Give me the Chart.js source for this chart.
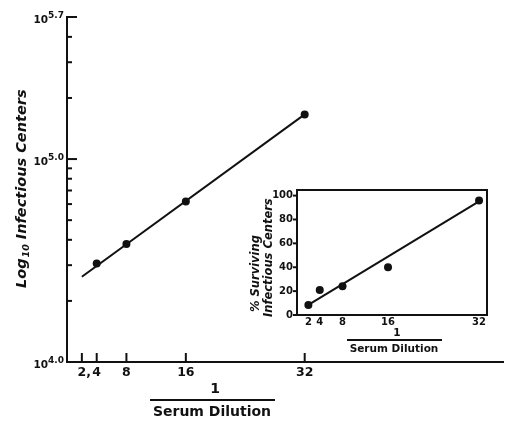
<!DOCTYPE html>
<html>
<head>
<meta charset="utf-8">
<script src="https://cdn.jsdelivr.net/npm/chart.js@4.4.1/dist/chart.umd.min.js"></script>
<style>
  html, body { margin: 0; padding: 0; background: #fff; }
  #wrap { position: relative; width: 507px; height: 421px; }
  #main { position: absolute; left: 0; top: 0; }
  #inset { position: absolute; left: 240px; top: 180px; }
</style>
</head>
<body>
<div id="wrap">
  <canvas id="main" width="507" height="421"></canvas>
  <canvas id="inset" width="267" height="180"></canvas>
</div>
<script>
// Eixo x (1 / diluição do soro)
const dilutionTicks = [2, 4, 8, 16, 32];
const dilutionTickLabels = ['2,', '4', '8', '16', '32'];

// Gráfico principal: centros infecciosos (escala log)
const mainDilution = [4, 8, 16, 32];
const mainCenters = [30600, 38100, 61700, 166000];
const mainFitX = [2, 32];
const mainFitY = [26300, 166000];
const logMinorTicks = [2e4, 3e4, 4e4, 5e4, 6e4, 7e4, 8e4, 9e4, 2e5, 3e5, 4e5];
const logMajorTicks = [1e5, Math.pow(10, 5.7)];
const logLabelValues = [1e4, 1e5, Math.pow(10, 5.7)];
const logLabelExps = ['4.0', '5.0', '5.7'];

// Gráfico inserido: % sobrevivência
const insetDilution = [2, 4, 8, 16, 32];
const insetSurviving = [8.4, 21, 24, 40, 96];
const insetFitX = [2, 32];
const insetFitY = [8.4, 95.2];
const insetYTicks = [0, 20, 40, 60, 80, 100];

const ink = '#111';
const FONT = '"DejaVu Sans", "Liberation Sans", Arial, sans-serif';

function pts(xs, ys) {
  return xs.map((v, i) => ({ x: v, y: ys[i] }));
}

function seg(ctx, x1, y1, x2, y2) {
  ctx.beginPath();
  ctx.moveTo(x1, y1);
  ctx.lineTo(x2, y2);
  ctx.stroke();
}

// Desenha ticks, rótulos e títulos do gráfico principal
const mainDecor = {
  id: 'mainDecor',
  afterDraw(chart) {
    const { ctx, chartArea: a, scales: { x, y } } = chart;
    ctx.save();
    ctx.strokeStyle = ink;
    ctx.fillStyle = ink;
    ctx.lineWidth = 2;

    // ticks do eixo x (para dentro)
    ctx.font = 'bold 12.5px ' + FONT;
    ctx.textBaseline = 'alphabetic';
    ctx.textAlign = 'left';
    dilutionTicks.forEach((v, i) => {
      const px = x.getPixelForValue(v);
      seg(ctx, px, a.bottom, px, a.bottom - 9);
      const lab = dilutionTickLabels[i];
      const core = lab.replace(/,$/, '');
      ctx.fillText(lab, px - ctx.measureText(core).width / 2, a.bottom + 14);
    });

    // ticks do eixo y
    logMinorTicks.forEach(v => {
      const py = y.getPixelForValue(v);
      seg(ctx, a.left, py, a.left + 5, py);
    });
    logMajorTicks.forEach(v => {
      const py = y.getPixelForValue(v);
      seg(ctx, a.left, py, a.left + 10, py);
    });

    // rótulos 10^n
    logLabelValues.forEach((v, i) => {
      const py = y.getPixelForValue(v);
      ctx.textAlign = 'right';
      ctx.font = 'bold 9px ' + FONT;
      const right = a.left - 3;
      const w = ctx.measureText(logLabelExps[i]).width;
      ctx.fillText(logLabelExps[i], right, py + 1);
      ctx.font = 'bold 10.5px ' + FONT;
      ctx.fillText('10', right - w, py + 6);
    });

    // título do eixo y
    ctx.save();
    ctx.translate(26, 288);
    ctx.rotate(-Math.PI / 2);
    ctx.textAlign = 'left';
    ctx.font = 'italic bold 14.5px ' + FONT;
    ctx.fillText('Log', 0, 0);
    let w = ctx.measureText('Log').width;
    ctx.font = 'italic bold 9.5px ' + FONT;
    ctx.fillText('10', w + 1, 3);
    w += ctx.measureText('10').width + 1;
    ctx.font = 'italic bold 14.5px ' + FONT;
    ctx.fillText(' Infectious Centers', w, 0);
    ctx.restore();

    // título do eixo x
    ctx.textAlign = 'center';
    ctx.font = 'bold 14px ' + FONT;
    ctx.fillText('1', 215, 393);
    seg(ctx, 150, 400, 275, 400);
    ctx.fillText('Serum Dilution', 212, 416);
    ctx.restore();
  }
};

// Caixa, ticks e títulos do gráfico inserido
const insetDecor = {
  id: 'insetDecor',
  afterDraw(chart) {
    const { ctx, chartArea: a, scales: { x, y } } = chart;
    ctx.save();
    ctx.strokeStyle = ink;
    ctx.fillStyle = ink;
    ctx.lineWidth = 2;
    ctx.strokeRect(a.left, a.top, a.right - a.left, a.bottom - a.top);

    ctx.font = 'bold 10px ' + FONT;
    ctx.textAlign = 'right';
    ctx.textBaseline = 'middle';
    insetYTicks.forEach(v => {
      const py = y.getPixelForValue(v);
      seg(ctx, a.left - 4, py, a.left, py);
      ctx.fillText(String(v), a.left - 4, py);
    });

    ctx.textAlign = 'center';
    ctx.textBaseline = 'top';
    dilutionTicks.forEach(v => {
      const px = x.getPixelForValue(v);
      ctx.fillText(String(v), px, a.bottom + 2);
    });

    ctx.textBaseline = 'alphabetic';
    ctx.save();
    ctx.translate(19, 132);
    ctx.rotate(-Math.PI / 2);
    ctx.textAlign = 'left';
    ctx.font = 'italic bold 11.5px ' + FONT;
    ctx.fillText('% Surviving', 0, 0);
    ctx.fillText('Infectious Centers', -5, 13);
    ctx.restore();

    ctx.textAlign = 'center';
    ctx.font = 'bold 10.5px ' + FONT;
    ctx.fillText('1', 157, 156);
    seg(ctx, 107, 160, 202, 160);
    ctx.fillText('Serum Dilution', 154, 172);
    ctx.restore();
  }
};

const hiddenAxis = {
  ticks: { display: false },
  grid: { display: false, drawTicks: false },
  title: { display: false }
};

new Chart(document.getElementById('main'), {
  type: 'scatter',
  data: {
    datasets: [{
      data: pts(mainFitX, mainFitY),
      showLine: true,
      pointRadius: 0,
      borderColor: ink,
      borderWidth: 2
    }, {
      data: pts(mainDilution, mainCenters),
      pointRadius: 4,
      backgroundColor: ink,
      borderWidth: 0
    }]
  },
  options: {
    responsive: false,
    animation: false,
    layout: { padding: { left: 67, right: 0, top: 17, bottom: 59 } },
    plugins: { legend: { display: false }, tooltip: { enabled: false } },
    scales: {
      x: Object.assign({}, hiddenAxis, {
        type: 'linear', min: 0, max: 58.7, bounds: 'data',
        border: { display: true, color: ink, width: 2 }
      }),
      y: Object.assign({}, hiddenAxis, {
        type: 'logarithmic', min: 1e4, max: Math.pow(10, 5.7), bounds: 'data',
        border: { display: true, color: ink, width: 2 }
      })
    }
  },
  plugins: [mainDecor]
});

new Chart(document.getElementById('inset'), {
  type: 'scatter',
  data: {
    datasets: [{
      data: pts(insetFitX, insetFitY),
      showLine: true,
      pointRadius: 0,
      borderColor: ink,
      borderWidth: 2
    }, {
      data: pts(insetDilution, insetSurviving),
      pointRadius: 4,
      backgroundColor: ink,
      borderWidth: 0
    }]
  },
  options: {
    responsive: false,
    animation: false,
    layout: { padding: { left: 57, right: 20, top: 10, bottom: 45 } },
    plugins: { legend: { display: false }, tooltip: { enabled: false } },
    scales: {
      x: Object.assign({}, hiddenAxis, {
        type: 'linear', min: 0, max: 33.4, bounds: 'data',
        border: { display: false }
      }),
      y: Object.assign({}, hiddenAxis, {
        type: 'linear', min: 0, max: 104.7, bounds: 'data',
        border: { display: false }
      })
    }
  },
  plugins: [insetDecor]
});
</script>
</body>
</html>
